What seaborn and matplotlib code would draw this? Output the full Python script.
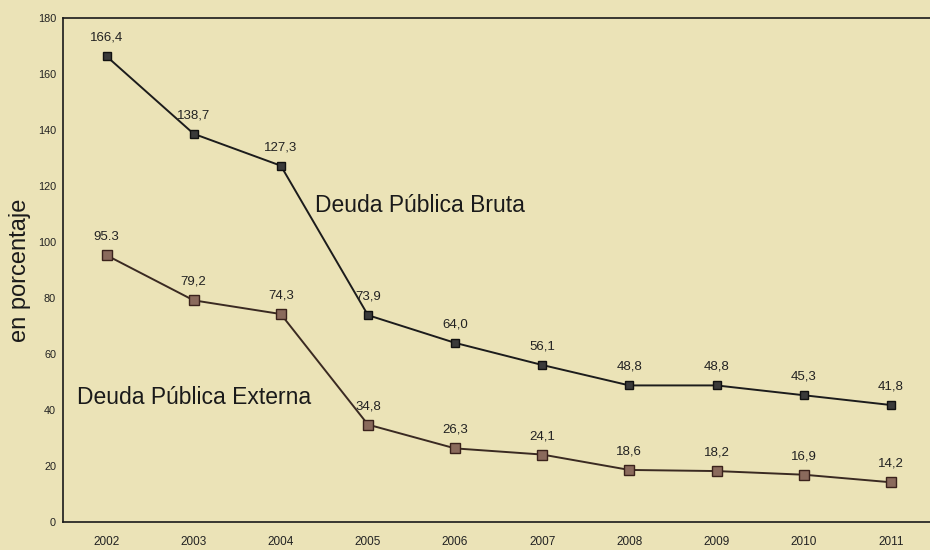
# Deuda Pública Bruta y Externa, 2002-2011 (en porcentaje)
import pandas as pd
import seaborn as sns
import matplotlib.pyplot as plt

# data
years = [2002, 2003, 2004, 2005, 2006, 2007, 2008, 2009, 2010, 2011]
bruta = [166.4, 138.7, 127.3, 73.9, 64.0, 56.1, 48.8, 48.8, 45.3, 41.8]
externa = [95.3, 79.2, 74.3, 34.8, 26.3, 24.1, 18.6, 18.2, 16.9, 14.2]
bruta_labels = ["166,4", "138,7", "127,3", "73,9", "64,0", "56,1", "48,8", "48,8", "45,3", "41,8"]
externa_labels = ["95.3", "79,2", "74,3", "34,8", "26,3", "24,1", "18,6", "18,2", "16,9", "14,2"]
y_ticks = [0, 20, 40, 60, 80, 100, 120, 140, 160, 180]

df = pd.DataFrame({"year": years, "bruta": bruta, "externa": externa})

sns.set_style("white")
plt.rcParams["font.family"] = ["Liberation Sans", "DejaVu Sans"]

bg = "#ebe3b7"
fig = plt.figure(figsize=(9.3, 5.5), dpi=100, facecolor=bg)
ax = fig.add_axes([0.0677, 0.0509, 0.937, 0.916])
ax.set_facecolor(bg)

# the two series
sns.lineplot(data=df, x="year", y="bruta", ax=ax, color="#1c1c1c", linewidth=1.4,
             marker="s", markersize=6, markerfacecolor="#3a3a3a",
             markeredgecolor="#111111", markeredgewidth=1.0)
sns.lineplot(data=df, x="year", y="externa", ax=ax, color="#3a2a22", linewidth=1.4,
             marker="s", markersize=6.5, markerfacecolor="#8a6a5c",
             markeredgecolor="#3a221c", markeredgewidth=1.0)

# value labels above each point
for x, y, lab in zip(years, bruta, bruta_labels):
    ax.annotate(lab, (x, y), xytext=(0, 9), textcoords="offset points",
                ha="center", va="bottom", fontsize=9.5, color="#222222")
for x, y, lab in zip(years, externa, externa_labels):
    ax.annotate(lab, (x, y), xytext=(0, 9), textcoords="offset points",
                ha="center", va="bottom", fontsize=9.5, color="#222222")

# series names
ax.text(2004.39, 113.2, "Deuda Pública Bruta", fontsize=16.5, color="#1a1a1a",
        ha="left", va="center")
ax.text(2001.66, 44.6, "Deuda Pública Externa", fontsize=16.5, color="#1a1a1a",
        ha="left", va="center")

ax.set_xlim(2001.5, 2011.5)
ax.set_ylim(0, 180)
ax.set_xticks(years)
ax.set_xticklabels([str(y) for y in years])
ax.set_yticks(y_ticks)
ax.tick_params(axis="both", length=0, colors="#222222")
ax.tick_params(axis="x", pad=10, labelsize=8.5)
ax.tick_params(axis="y", pad=5, labelsize=7.8)
ax.set_xlabel("")
ax.set_ylabel("")

for side in ["left", "top", "bottom"]:
    ax.spines[side].set_color("#1a1a1a")
    ax.spines[side].set_linewidth(1.2)
ax.spines["right"].set_visible(False)

fig.text(20 / 930, 1 - 270 / 550, "en porcentaje", rotation=90, fontsize=17,
         color="#1a1a1a", ha="center", va="center")

fig.savefig("out.png", dpi=100, facecolor=bg)
